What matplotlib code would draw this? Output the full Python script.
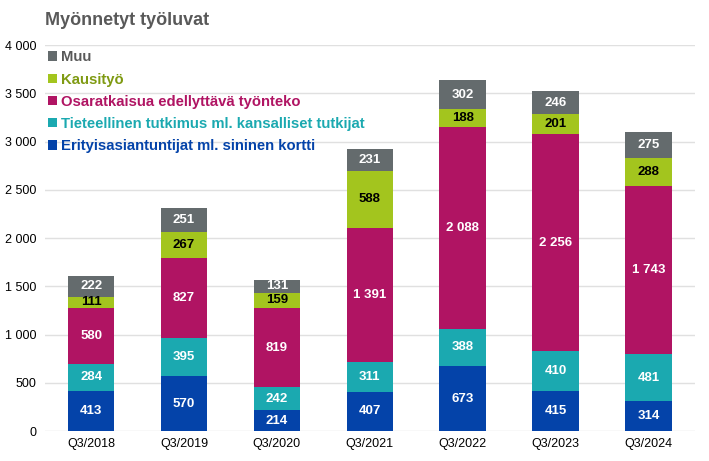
import matplotlib.pyplot as plt
import numpy as np

plt.rcParams['font.family'] = ['Liberation Sans', 'DejaVu Sans']

quarters = ['Q3/2018', 'Q3/2019', 'Q3/2020', 'Q3/2021', 'Q3/2022', 'Q3/2023', 'Q3/2024']
erityis = [413, 570, 214, 407, 673, 415, 314]
tieteellinen = [284, 395, 242, 311, 388, 410, 481]
osaratkaisu = [580, 827, 819, 1391, 2088, 2256, 1743]
kausityo = [111, 267, 159, 588, 188, 201, 288]
muu = [222, 251, 131, 231, 302, 246, 275]

series = [
    ('Erityisasiantuntijat ml. sininen kortti', erityis, '#0443A9', 'white', '#0443A9'),
    ('Tieteellinen tutkimus ml. kansalliset tutkijat', tieteellinen, '#1BA9B0', 'white', '#1BA9B0'),
    ('Osaratkaisua edellyttävä työnteko', osaratkaisu, '#B01463', 'white', '#B01463'),
    ('Kausityö', kausityo, '#A3C51E', 'black', '#7F9A12'),
    ('Muu', muu, '#646B6D', 'white', '#595959'),
]


def fmt(v):
    return f'{v:,}'.replace(',', ' ')


fig = plt.figure(figsize=(7.09, 4.61), dpi=100)
ax = fig.add_axes([0.063, 0.065, 0.917, 0.837])

x = np.arange(len(quarters))
bottom = np.zeros(len(quarters))
handles = []
for name, vals, color, tcol, lcol in series:
    vals = np.array(vals)
    bars = ax.bar(x, vals, 0.5, bottom=bottom, color=color, label=name, zorder=3)
    for xi, b, v in zip(x, bottom, vals):
        ax.text(xi, b + v / 2, fmt(v), ha='center', va='center', color=tcol,
                fontsize=9.5, fontweight='bold', zorder=4)
    bottom += vals
    handles.append(bars)

ax.set_xlim(-0.5, 6.5)
ax.set_ylim(0, 4000)
ax.set_yticks(np.arange(0, 4001, 500))
ax.set_yticklabels([fmt(v) for v in range(0, 4001, 500)])
ax.set_xticks(x)
ax.set_xticklabels(quarters)
ax.tick_params(axis='both', length=0, labelsize=9, colors='black')
ax.tick_params(axis='y', pad=6)
ax.tick_params(axis='x', pad=5)
ax.grid(axis='y', color='#E0E0E0', linewidth=1, zorder=0)
for s in ax.spines.values():
    s.set_visible(False)

leg = ax.legend(handles[::-1], [s[0] for s in series[::-1]], loc='upper left',
                bbox_to_anchor=(-0.016, 1.021), frameon=False, handlelength=0.6,
                handleheight=0.6, handletextpad=0.3, labelspacing=0.55,
                prop={'size': 10.7, 'weight': 'bold'})
for txt, s in zip(leg.get_texts(), series[::-1]):
    txt.set_color(s[4])

fig.text(0.063, 0.955, 'Myönnetyt työluvat', fontsize=13, fontweight='bold',
         color='#595959', ha='left', va='center')

fig.savefig('out.png', dpi=100)
